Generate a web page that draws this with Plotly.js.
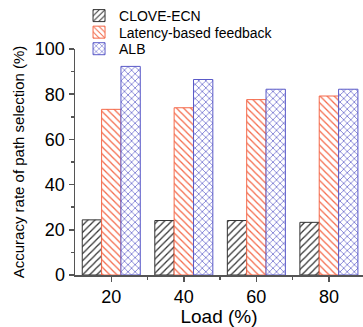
<!DOCTYPE html>
<html>
<head>
<meta charset="utf-8">
<script src="https://cdn.plot.ly/plotly-3.0.1.min.js"></script>
<style>html,body{margin:0;padding:0;background:#fff;}#chart{width:363px;height:327px;}</style>
</head>
<body>
<div id="chart"></div>
<script>
var loads = [20, 40, 60, 80];
var seriesNames = ["CLOVE-ECN", "Latency-based feedback", "ALB"];
var cloveEcn = [24.4, 24.1, 24.1, 23.3];
var latencyFeedback = [73.3, 74.0, 77.6, 79.2];
var alb = [92.3, 86.5, 82.2, 82.2];
var yTicks = [0, 20, 40, 60, 80, 100];
var xTicks = [20, 40, 60, 80];

var colors = ["#333333", "#f4694a", "#5a5ac8"];
var shapes = ["/", "\\", "x"];
var values = [cloveEcn, latencyFeedback, alb];
var legendIds = ["legend", "legend2", "legend3"];
var legendY = [1.146, 1.0728, 0.9995];

var traces = values.map(function (v, i) {
  return {
    type: "bar",
    name: seriesNames[i],
    x: loads,
    y: v,
    legend: legendIds[i],
    marker: {
      color: "#ffffff",
      line: {color: colors[i], width: 1},
      pattern: {shape: shapes[i], fgcolor: colors[i], bgcolor: "#ffffff", size: 5, solidity: 0.25}
    }
  };
});

var font = {family: "Liberation Sans, Arial, sans-serif", color: "#000"};

var layout = {
  width: 363, height: 327,
  margin: {l: 75, r: 0, t: 43, b: 52},
  paper_bgcolor: "#fff", plot_bgcolor: "#fff",
  barmode: "group", bargap: 0.2, bargroupgap: 0,
  font: font,
  showlegend: true,
  xaxis: {
    range: [10, 89.4], tickvals: xTicks, ticktext: xTicks.map(String),
    showgrid: false, zeroline: false, showline: true, linecolor: "#555", linewidth: 1.5,
    ticks: "outside", ticklen: 5, tickcolor: "#555", tickwidth: 1.5,
    minor: {tickvals: [30, 50, 70], ticks: "outside", ticklen: 3, tickcolor: "#555", tickwidth: 1.5},
    tickfont: {family: font.family, size: 18, color: "#000"},
    title: {text: "Load (%)", font: {family: font.family, size: 19, color: "#000"}, standoff: 4}
  },
  yaxis: {
    range: [0, 100], tickvals: yTicks, ticktext: yTicks.map(String),
    showgrid: false, zeroline: false, showline: true, linecolor: "#555", linewidth: 1.5,
    ticks: "outside", ticklen: 5, tickcolor: "#555", tickwidth: 1.5,
    minor: {dtick: 10, ticks: "outside", ticklen: 3, tickcolor: "#555", tickwidth: 1.5},
    tickfont: {family: font.family, size: 18, color: "#000"},
    title: {text: "Accuracy rate of path selection (%)", font: {family: font.family, size: 15, color: "#000"}, standoff: 6}
  }
};

legendIds.forEach(function (id, i) {
  layout[id] = {
    x: 0.014, y: legendY[i], xanchor: "left", yanchor: "middle",
    font: {family: font.family, size: 14, color: "#000"},
    itemwidth: 30, bgcolor: "rgba(0,0,0,0)"
  };
});

Plotly.newPlot("chart", traces, layout, {displayModeBar: false, staticPlot: true});
</script>
</body>
</html>
